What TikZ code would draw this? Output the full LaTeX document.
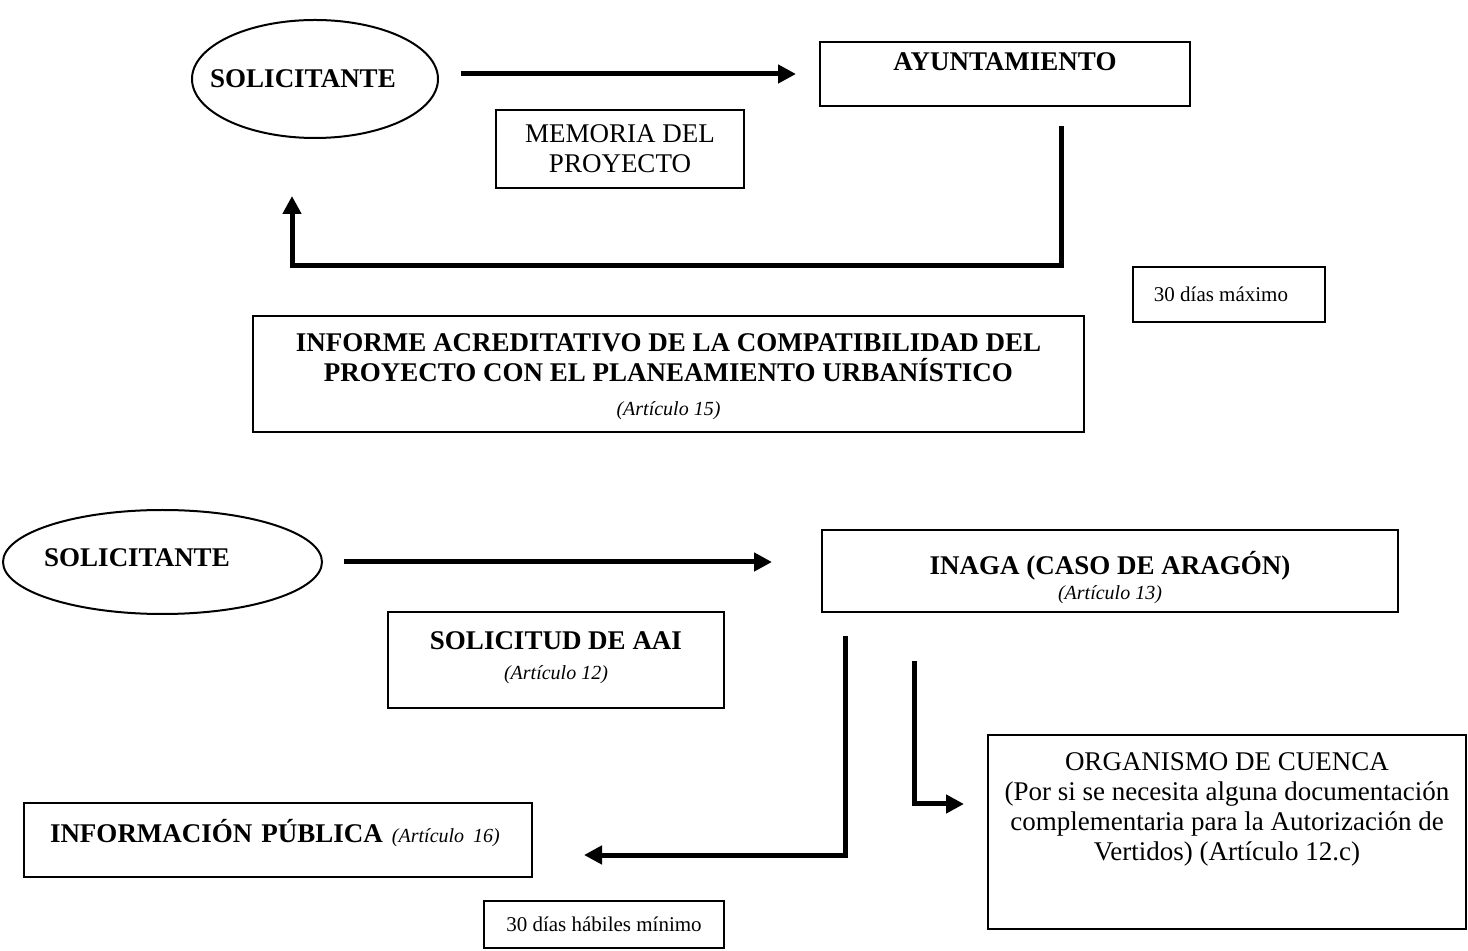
\documentclass[tikz,border=0pt]{standalone}
\usepackage{fontspec}
\setmainfont{Liberation Serif}
\usetikzlibrary{arrows.meta,shapes}
\newcommand{\art}[1]{{\fontsize{10}{12}\selectfont\mdseries\itshape (Artículo #1)}}
\newcommand{\bajar}[2]{\raisebox{-#1}[\height][\depth]{#2}}
\tikzset{
  caja/.style={draw,line width=1pt,align=center,font=\fontsize{13.5}{15}\selectfont},
  cajab/.style={caja,font=\fontsize{13.5}{15}\selectfont\bfseries},
  chica/.style={caja,font=\fontsize{10.5}{12}\selectfont},
  elipse/.style={draw,ellipse,line width=1pt},
  tit/.style={font=\fontsize{13.5}{15}\selectfont\bfseries},
  flecha/.style={line width=2.5pt,-{Triangle[length=9pt,width=9pt]}}
}

\begin{document}
\begin{tikzpicture}[x=0.5pt,y=-0.5pt]
\useasboundingbox (0,0) rectangle (1468,951);
% parte 1: ayuntamiento
\node[elipse,minimum width=123pt,minimum height=59pt] (sol1) at (315,79) {};
\node[tit] (tsol1) at (303,79) {SOLICITANTE};
\node[cajab,minimum width=185pt,minimum height=32pt] (ayto) at (1005,74)
   {\bajar{-6pt}{AYUNTAMIENTO}};
\node[caja,minimum width=124pt,minimum height=39pt] (memoria) at (620,149) {MEMORIA DEL\\PROYECTO};
\node[chica,minimum width=96pt,minimum height=27.5pt] (dias1) at (1229,294.5) {\hspace*{-8pt}30 días máximo};
\node[cajab,minimum width=415.5pt,minimum height=58pt] (informe) at (668.5,374)
   {\bajar{1.5pt}{INFORME ACREDITATIVO DE LA COMPATIBILIDAD DEL}\\
    \bajar{1.5pt}{PROYECTO CON EL PLANEAMIENTO URBANÍSTICO}\\[2pt]
    \bajar{1.5pt}{\art{15}}};
\draw[flecha,shorten <=11pt,shorten >=11.5pt] (sol1.east |- ayto.west) -- (ayto.west);
\draw[flecha] ([xshift=28pt,yshift=-9.5pt]ayto.south) -- ++(0,140)
   -| ([xshift=-11.5pt,yshift=-28.5pt]sol1.south);
% parte 2: inaga
\node[elipse,minimum width=159.5pt,minimum height=52pt] (sol2) at (162.5,562) {};
\node[tit] (tsol2) at (137,558) {SOLICITANTE};
\node[cajab,minimum width=288pt,minimum height=41pt] (inaga) at (1110,571)
   {\bajar{3.25pt}{INAGA (CASO DE ARAGÓN)}\\[-2.5pt]\bajar{3.25pt}{\art{13}}};
\node[cajab,minimum width=168pt,minimum height=48pt] (solicitud) at (556,660)
   {\bajar{-1pt}{SOLICITUD DE AAI}\\\bajar{-1pt}{\art{12}}};
\node[caja,minimum width=239pt,minimum height=97pt] (cuenca) at (1227,832)
   {ORGANISMO DE CUENCA\\(Por si se necesita alguna documentación\\complementaria para la Autorización de\\Vertidos) (Artículo 12.c)\\[10pt]\mbox{}};
\node[cajab,minimum width=254pt,minimum height=37pt,text width=228pt,align=left,inner xsep=13pt] (info) at (278,840)
   {\bajar{-3.5pt}{INFORMACIÓN PÚBLICA \art{16}}};
\node[chica,minimum width=120pt,minimum height=23.5pt] (dias2) at (604,924.5) {30 días hábiles mínimo};
\draw[flecha,shorten <=10.5pt,shorten >=24.5pt] (sol2.east) -- (sol2.east -| inaga.west);
\draw[flecha] ([xshift=12pt,yshift=-11.5pt]inaga.south west) |- ([xshift=25.5pt,yshift=-7.5pt]info.east);
\draw[flecha] ([xshift=46.5pt,yshift=-24pt]inaga.south west) |- ([xshift=-11.5pt,yshift=14pt]cuenca.west);
\end{tikzpicture}
\end{document}
